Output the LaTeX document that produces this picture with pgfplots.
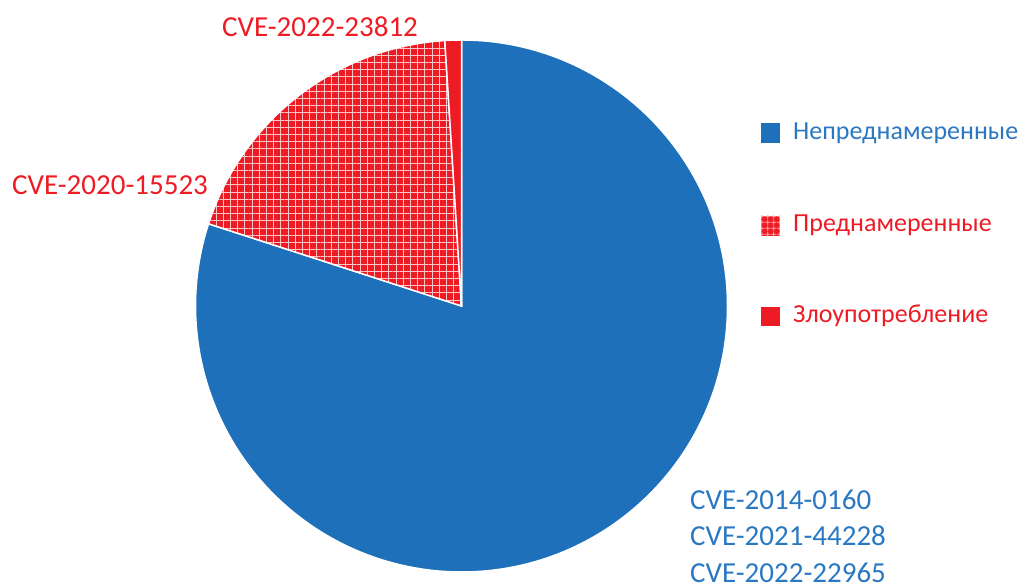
\documentclass[border=0pt]{standalone}
\usepackage{fontspec}
\setmainfont{Carlito}
\usepackage{pgfplots}
\usepackage{pgfplotstable}
\pgfplotsset{compat=1.18}
\usetikzlibrary{patterns.meta}
\definecolor{cblue}{RGB}{30,112,186}
\definecolor{tblue}{RGB}{42,120,194}
\definecolor{cred}{RGB}{237,28,36}
\pgfplotstableread{
idx value
0 80
1 19
2 1
}\piedata
\pgfplotstablegetelem{0}{value}\of\piedata \let\vA\pgfplotsretval
\pgfplotstablegetelem{1}{value}\of\piedata \let\vB\pgfplotsretval
\pgfplotstablegetelem{2}{value}\of\piedata \let\vC\pgfplotsretval
\pgfmathsetmacro\aA{90-3.6*\vA}
\pgfmathsetmacro\aB{\aA-3.6*\vB}
\pgfmathsetmacro\aC{\aB-3.6*\vC}
\begin{document}
\begin{tikzpicture}
\begin{axis}[
  width=1025bp, height=588bp, scale only axis,
  xmin=0, xmax=1025, ymin=0, ymax=588,
  hide axis, clip=false]
\path (axis cs:0,0) rectangle (axis cs:1025,588);
% slices
\filldraw[fill=cblue, draw=white, line width=1.5bp]
  (axis cs:461.5,282) -- ++(90:266bp) arc[start angle=90, end angle=\aA, radius=266bp] -- cycle;
\filldraw[preaction={fill=cred}, pattern={Hatch[angle=0,distance=7.2bp,line width=0.9bp]}, pattern color=white!75!cred, draw=white, line width=1.5bp]
  (axis cs:461.5,282) -- ++(\aA:266bp) arc[start angle=\aA, end angle=\aB, radius=266bp] -- cycle;
\filldraw[fill=cred, draw=white, line width=1.5bp]
  (axis cs:461.5,282) -- ++(\aB:266bp) arc[start angle=\aB, end angle=\aC, radius=266bp] -- cycle;
% labels
\node[anchor=base west, text=cred, font=\fontsize{29bp}{34bp}\selectfont, inner sep=0pt] at (axis cs:222,551) {CVE-2022-23812};
\node[anchor=base west, text=cred, font=\fontsize{29bp}{34bp}\selectfont, inner sep=0pt] at (axis cs:12,393) {CVE-2020-15523};
\node[anchor=base west, text=tblue, font=\fontsize{29bp}{34bp}\selectfont, inner sep=0pt] at (axis cs:690,78) {CVE-2014-0160};
\node[anchor=base west, text=tblue, font=\fontsize{29bp}{34bp}\selectfont, inner sep=0pt] at (axis cs:690,42) {CVE-2021-44228};
\node[anchor=base west, text=tblue, font=\fontsize{29bp}{34bp}\selectfont, inner sep=0pt] at (axis cs:690,6) {CVE-2022-22965};
% legend
\fill[cblue] (axis cs:761,445) rectangle (axis cs:780,465);
\fill[preaction={fill=cred}, pattern={Hatch[angle=0,distance=6bp,line width=0.8bp]}, pattern color=white!70!cred] (axis cs:761,352) rectangle (axis cs:780,372);
\fill[cred] (axis cs:761,262) rectangle (axis cs:780,281);
\node[anchor=base west, text=tblue, font=\fontsize{26bp}{30bp}\selectfont, inner sep=0pt] at (axis cs:793,448) {Непреднамеренные};
\node[anchor=base west, text=cred, font=\fontsize{26bp}{30bp}\selectfont, inner sep=0pt] at (axis cs:793,356) {Преднамеренные};
\node[anchor=base west, text=cred, font=\fontsize{26bp}{30bp}\selectfont, inner sep=0pt] at (axis cs:793,265) {Злоупотребление};
\end{axis}
\pgfresetboundingbox
\path (0,0) rectangle (1025bp,588bp);
\end{tikzpicture}
\end{document}
